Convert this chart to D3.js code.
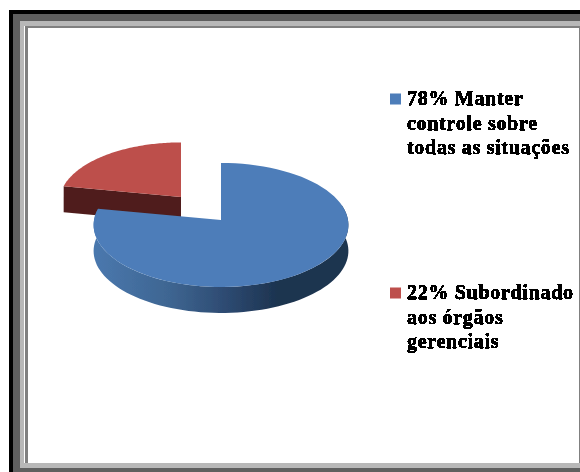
<!DOCTYPE html>
<html>
<head>
<meta charset="utf-8">
<script src="https://cdn.jsdelivr.net/npm/d3@7/dist/d3.min.js"></script>
<style>
html,body{margin:0;padding:0;background:#fff;overflow:hidden}
svg{display:block}
text{font-family:"Liberation Serif",serif;font-weight:bold;font-size:20px;letter-spacing:0.7px;fill:#000;stroke:#000;stroke-width:0.25px}
</style>
</head>
<body>
<svg id="chart" width="580" height="472"></svg>
<script>
// Chart values
const categories = ["Manter controle sobre todas as situações", "Subordinado aos órgãos gerenciais"];
const shares = [78, 22];
const legendLines = [
  ["78% Manter", "controle sobre", "todas as situações"],
  ["22% Subordinado", "aos órgãos", "gerenciais"]
];
const topColors = ["#4d7db9", "#bd4f4c"];
const sideColors = ["#1d3450", "#4f1e1b"];

const svg = d3.select("#chart");
const defs = svg.append("defs");

// Slight softening of the pie, hard-thresholded legend glyphs
defs.append("filter").attr("id", "soft")
  .attr("x", "-5%").attr("y", "-5%").attr("width", "110%").attr("height", "110%")
  .append("feGaussianBlur").attr("stdDeviation", 0.6);
const crisp = defs.append("filter").attr("id", "crisp");
const transfer = crisp.append("feComponentTransfer");
transfer.append("feFuncA").attr("type", "discrete").attr("tableValues", "0 1 1 1");

// Side wall shading of the large slice
const wallGrad = defs.append("linearGradient").attr("id", "wall")
  .attr("gradientUnits", "userSpaceOnUse")
  .attr("x1", 94).attr("x2", 348).attr("y1", 0).attr("y2", 0);
[[0, "#4a78ae"], [0.3, "#3e6591"], [0.55, "#2b476d"], [0.72, "#1d3450"], [1, "#1d3450"]]
  .forEach(([o, c]) => wallGrad.append("stop").attr("offset", o).attr("stop-color", c));

// Frame bands, outermost first
const frame = svg.append("g").attr("shape-rendering", "crispEdges");
[[9, 10, 571, 462, "#000000"],
 [13, 14, 567, 458, "#5f5f5f"],
 [20, 21, 560, 447, "#b8b8b8"],
 [24, 26, 556, 437, "#ffffff"],
 [25, 26, 555, 437, "#808080"],
 [28, 28, 551, 435, "#ffffff"]]
  .forEach(([x, y, w, h, c]) =>
    frame.append("rect").attr("x", x).attr("y", y).attr("width", w).attr("height", h).attr("fill", c));
frame.append("rect").attr("x", 579).attr("y", 26).attr("width", 1).attr("height", 437).attr("fill", "#808080");
frame.append("rect").attr("x", 28).attr("y", 26).attr("width", 552).attr("height", 2).attr("fill", "#808080");

// Tilted disc: back half foreshortened relative to the front half
const radiusX = d3.scaleLinear().domain([0, 1]).range([0, 127]);
const perspective = 0.08, tilt = 61.6, depth = 26;
function project(angle, r) {
  const v = -Math.cos(angle) * r, u = Math.sin(angle) * r;
  const k = 1 / (1 - perspective * v);
  return [radiusX(u) * k, v * tilt * k];
}
const line = d3.line();
const samples = (a0, a1) => d3.range(0, 81).map(i => a0 + (a1 - a0) * i / 80);

const slices = d3.pie().sort(null).value(d => d)(shares);
const origins = [[221, 220], [181, 197]];
const radii = [1, 0.954];
const pieGroup = svg.append("g").attr("filter", "url(#soft)");

// The smaller slice sits behind, so it is painted first
[1, 0].forEach(i => {
  const s = slices[i], [ox, oy] = origins[i];
  const g = pieGroup.append("g").attr("transform", `translate(${ox},${oy})`);
  const arcPts = samples(s.startAngle, s.endAngle).map(a => project(a, radii[i]));
  if (i === 0) {
    const frontPts = samples(Math.PI / 2 - 0.25, s.endAngle).map(a => project(a, radii[i]));
    const wallPts = frontPts.concat(frontPts.slice().reverse().map(([x, y]) => [x, y + depth]));
    g.append("path").attr("d", line(wallPts) + "Z").attr("fill", "url(#wall)");
    wallGrad.attr("gradientTransform", `translate(${-ox},0)`);
  } else {
    // Cut face along the open side of the wedge
    const corner = project(s.startAngle, radii[i]);
    const cut = [[0, 0], corner, [corner[0], corner[1] + depth], [0, depth]];
    g.append("path").attr("d", line(cut) + "Z").attr("fill", sideColors[i]);
  }
  g.append("path").attr("d", line([[0, 0]].concat(arcPts)) + "Z").attr("fill", topColors[i]);
});

// Legend
const legend = svg.append("g");
const legendY = d3.scaleOrdinal().domain(categories).range([105, 299]);
categories.forEach((c, i) => {
  const y0 = legendY(c);
  legend.append("rect").attr("x", 390).attr("y", y0 - 11.5).attr("width", 11).attr("height", 11)
    .attr("fill", topColors[i]);
  const t = legend.append("text").attr("filter", "url(#crisp)");
  legendLines[i].forEach((l, j) => {
    t.append("tspan").attr("x", 407).attr("y", y0 + j * 24.6).text(l);
  });
});
</script>
</body>
</html>
